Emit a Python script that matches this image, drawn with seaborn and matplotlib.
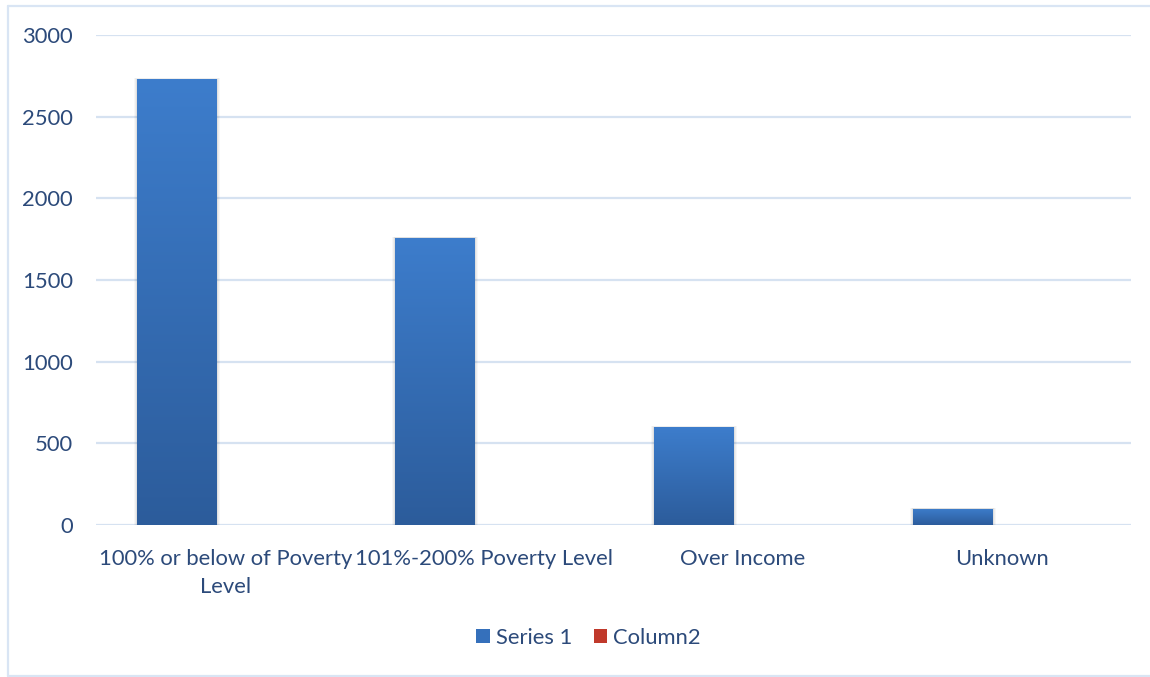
import numpy as np
import pandas as pd
import matplotlib
matplotlib.use("Agg")
import matplotlib.pyplot as plt
import matplotlib.patches as mpatches
from matplotlib.lines import Line2D
from matplotlib.colors import LinearSegmentedColormap
import seaborn as sns

categories = ["100% or below of Poverty\nLevel", "101%-200% Poverty Level", "Over Income", "Unknown"]
series1 = [2730, 1760, 600, 100]
column2 = [0, 0, 0, 0]
series_names = ["Series 1", "Column2"]
yticks = [0, 500, 1000, 1500, 2000, 2500, 3000]

TEXT = "#2c4a7a"
GRID = "#d6e2f1"
FS = 15.8

sns.set_theme(style="white")
plt.rcParams["font.family"] = ["Lato", "DejaVu Sans"]

df = pd.DataFrame({
    "category": categories * 2,
    "value": series1 + column2,
    "series": [series_names[0]] * 4 + [series_names[1]] * 4,
})

fig = plt.figure(figsize=(11.5, 6.77), dpi=100)
W, H = 1150, 677
ax = fig.add_axes([96 / W, 1 - 525 / H, (1131 - 96) / W, (525 - 35) / H])

# outer chart frame (left, top and bottom edges)
frame_kw = dict(transform=fig.transFigure, color="#d9e5f4", linewidth=1.6, zorder=0)
fig.lines.append(Line2D([8 / W, 8 / W], [1 - 676 / H, 1 - 6 / H], **frame_kw))
fig.lines.append(Line2D([8 / W, 1.0], [1 - 6 / H, 1 - 6 / H], **frame_kw))
fig.lines.append(Line2D([8 / W, 1.0], [1 - 676 / H, 1 - 676 / H], **frame_kw))

sns.barplot(data=df, x="category", y="value", hue="series", ax=ax,
            palette=["#3a78c4", "#c0392b"], width=0.618, dodge=True,
            legend=False, saturation=1, errorbar=None, linewidth=0)

ax.set_ylim(0, 3000)
ax.set_xlim(-0.5, 3.5)
ax.set_yticks(yticks)
ax.set_yticklabels([str(t) for t in yticks])
ax.yaxis.grid(True, color=GRID, linewidth=1.6)
ax.set_axisbelow(True)
for s in ax.spines.values():
    s.set_visible(False)
ax.tick_params(axis="both", length=0, labelsize=FS, colors=TEXT)
ax.tick_params(axis="y", pad=16.5)
ax.tick_params(axis="x", pad=17)
for lbl in ax.get_xticklabels():
    lbl.set_linespacing(1.55)
ax.set_xlabel("")
ax.set_ylabel("")

# gradient fill for the series bars
cmap = LinearSegmentedColormap.from_list("bar", ["#2c5c9b", "#3d7dcc"])
grad = np.linspace(0, 1, 256).reshape(-1, 1)
bars = [p for p in ax.patches if p.get_height() > 0]
for p in bars:
    p.set_x(p.get_x() - 0.034)
    x0, w, h = p.get_x(), p.get_width(), p.get_height()
    # soft drop shadow
    for k, a in zip([0.012, 0.008, 0.004], [0.03, 0.04, 0.05]):
        sh = mpatches.Rectangle((x0 - k, -15), w + 2 * k, h + 15 + k * 500,
                                facecolor="#000000", alpha=a, edgecolor="none", zorder=1.5)
        ax.add_patch(sh)
    im = ax.imshow(grad, cmap=cmap, extent=(x0, x0 + w, 0, h), origin="lower",
                   aspect="auto", zorder=2)
    im.set_clip_path(p)
    p.set_zorder(2)
ax.set_xlim(-0.5, 3.5)
ax.set_ylim(0, 3000)

handles = [mpatches.Patch(facecolor="#3570bb", edgecolor="none"),
           mpatches.Patch(facecolor="#c0392b", edgecolor="none")]
fig.legend(handles, series_names, loc="center", bbox_to_anchor=(588.5 / W, 1 - 638 / H),
           ncol=2, frameon=False, fontsize=FS, labelcolor=TEXT,
           handlelength=0.62, handleheight=0.62, handletextpad=0.25, columnspacing=1.0)

fig.savefig("out.png", dpi=100)
